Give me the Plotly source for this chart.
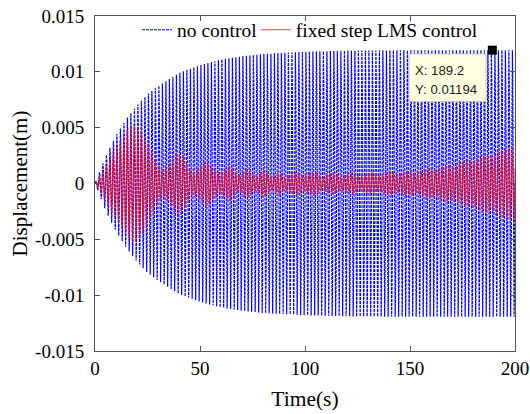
import numpy as np
import plotly.graph_objects as go

# ---- data ----
x_ticks = [0, 50, 100, 150, 200]
x_tick_labels = ["0", "50", "100", "150", "200"]
y_ticks = [-0.015, -0.01, -0.005, 0, 0.005, 0.01, 0.015]
y_tick_labels = ["-0.015", "-0.01", "-0.005", "0", "0.005", "0.01", "0.015"]

excitation_freq_hz = 0.6   # oscillation rate read from stripe spacing

# envelope of the uncontrolled response (time s, amplitude m)
no_control_env_t = [0, 5, 10, 15, 20, 25, 30, 40, 50, 60, 70, 80, 100, 120, 150, 200]
no_control_env_amp = [0, 0.0024, 0.0043, 0.0058, 0.0070, 0.0080, 0.0087, 0.0099,
                      0.0106, 0.0111, 0.0114, 0.0116, 0.0118, 0.0119, 0.01194, 0.01194]

# envelope of the fixed step LMS controlled response
lms_env_t = [0, 2, 5, 10, 15, 18, 21, 25, 29, 32, 35, 39, 42, 45, 47, 50, 53, 56, 59,
             61, 64, 66, 68, 70, 72, 74, 76, 78, 80, 82, 84, 86, 88, 90, 93, 96, 99,
             102, 105, 108, 111, 114, 117, 120, 123, 126, 129, 132, 135, 138, 141,
             144, 147, 150, 153, 156, 159, 162, 165, 168, 171, 174, 177, 180, 183,
             186, 189, 192, 195, 198, 200]
lms_env_amp = [0, 0.0006, 0.0016, 0.0032, 0.0047, 0.0053, 0.0050, 0.0037, 0.0020,
               0.0012, 0.0017, 0.0028, 0.0025, 0.0013, 0.0010, 0.0016, 0.0021, 0.0015,
               0.0009, 0.0012, 0.0017, 0.0013, 0.0007, 0.0010, 0.0014, 0.0011, 0.0007,
               0.0009, 0.0013, 0.0010, 0.0006, 0.0009, 0.0011, 0.0006, 0.0009, 0.0011,
               0.0007, 0.0010, 0.0011, 0.0006, 0.0009, 0.0010, 0.0006, 0.0009, 0.0010,
               0.0006, 0.0009, 0.0010, 0.0007, 0.0010, 0.0011, 0.0008, 0.0011, 0.0012,
               0.0009, 0.0012, 0.0014, 0.0012, 0.0015, 0.0017, 0.0015, 0.0019, 0.0021,
               0.0020, 0.0024, 0.0026, 0.0025, 0.0029, 0.0031, 0.0032, 0.0034]

datatip_x = 189.2
datatip_y = 0.01194
datatip_lines = ["X: 189.2", "Y: 0.01194"]

# ---- build the sampled signals ----
t = np.arange(0, 200.0001, 0.02)
w = 2 * np.pi * excitation_freq_hz
no_control = np.interp(t, no_control_env_t, no_control_env_amp) * np.sin(w * t)
lms = np.interp(t, lms_env_t, lms_env_amp) * np.sin(w * t + 0.4)

serif = "Liberation Serif, Times New Roman, serif"
fig = go.Figure()
fig.add_trace(go.Scatter(x=t, y=no_control, mode="lines", name="no control",
                         legend="legend",
                         line=dict(color="#0000FF", width=1.2, dash="3px,1px")))
fig.add_trace(go.Scatter(x=t, y=lms, mode="lines", name="fixed step LMS control",
                         legend="legend2", opacity=0.75,
                         line=dict(color="#FF0000", width=1.1)))
fig.add_trace(go.Scatter(x=[datatip_x], y=[datatip_y], mode="markers", showlegend=False,
                         marker=dict(symbol="square", size=9, color="black")))

# datatip box
fig.add_shape(type="rect", x0=149.5, x1=186.2, y0=0.00732, y1=0.01161,
              fillcolor="#FFFFE1", line=dict(color="#A0A0A0", width=0.6), layer="above")
fig.add_annotation(x=151.2, y=0.01009, text=datatip_lines[0], showarrow=False,
                   xanchor="left", yanchor="middle",
                   font=dict(family="Liberation Sans, Arial", size=13.2, color="#222"))
fig.add_annotation(x=151.2, y=0.00839, text=datatip_lines[1], showarrow=False,
                   xanchor="left", yanchor="middle",
                   font=dict(family="Liberation Sans, Arial", size=13.2, color="#222"))

axis_common = dict(showline=True, mirror="ticks", linecolor="#555", linewidth=1,
                   ticks="inside", ticklen=5, tickcolor="#555", showgrid=False,
                   zeroline=False, automargin=False, ticklabeloverflow="allow",
                   tickfont=dict(family=serif, size=19, color="black"))

legend_common = dict(orientation="h", y=0.958, xanchor="left", yanchor="middle",
                     bgcolor="rgba(0,0,0,0)", font=dict(family=serif, size=19.5),
                     itemwidth=30, tracegroupgap=0)

fig.update_layout(
    width=530, height=414,
    margin=dict(l=95, r=15, t=16, b=63, autoexpand=False),
    paper_bgcolor="white", plot_bgcolor="white",
    font=dict(family=serif, color="black"),
    xaxis=dict(range=[0, 200], tickvals=x_ticks, ticktext=x_tick_labels,
               title=dict(text="Time(s)", font=dict(family=serif, size=21.5), standoff=13),
               **axis_common),
    yaxis=dict(range=[-0.015, 0.015], tickvals=y_ticks, ticktext=y_tick_labels,
               ticklabelstandoff=6,
               title=dict(text="Displacement(m)", font=dict(family=serif, size=21), standoff=1),
               **axis_common),
    legend=dict(x=0.1, **legend_common),
    legend2=dict(x=0.383, **legend_common),
    showlegend=True,
)

# remove the browser's default 8px page margin so the figure fills the window
fig.write_html("out.html", config={"displayModeBar": False},
               post_script="document.body.style.margin='0';document.body.style.overflow='hidden';")
